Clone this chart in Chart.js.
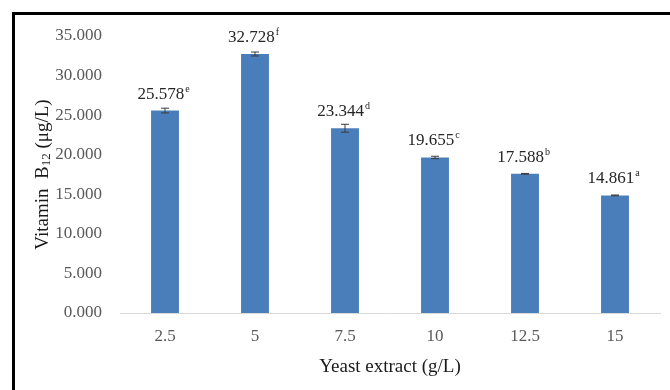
<!DOCTYPE html>
<html>
<head>
<meta charset="utf-8">
<script src="https://cdn.jsdelivr.net/npm/chart.js@4/dist/chart.umd.min.js"></script>
<style>
  html, body { margin: 0; padding: 0; background: #fff; }
  #marco { position: absolute; left: 0; top: 0; width: 670px; height: 390px; }
  #borde {
    position: absolute; left: 12px; top: 12px; width: 658px; height: 378px;
    border-left: 3px solid #000; border-top: 3px solid #000;
    box-sizing: border-box; pointer-events: none;
  }
</style>
</head>
<body>
<div id="marco"><canvas id="grafico" width="670" height="390"></canvas></div>
<div id="borde"></div>
<script>
const extracto = ["2.5", "5", "7.5", "10", "12.5", "15"];
const vitamina = [25.578, 32.728, 23.344, 19.655, 17.588, 14.861];
const errores = [0.3, 0.25, 0.5, 0.15, 0.05, 0.05];
const letras = ["e", "f", "d", "c", "b", "a"];
const ticksY = [0, 5, 10, 15, 20, 25, 30, 35];

const fuente = "'Liberation Serif', 'Times New Roman', serif";

// barras de error, etiquetas con superindice y titulo del eje Y
const extras = {
  id: "extras",
  afterDatasetsDraw(chart) {
    const ctx = chart.ctx;
    const y = chart.scales.y;
    const meta = chart.getDatasetMeta(0);
    ctx.save();
    meta.data.forEach((barra, i) => {
      const x = barra.x;
      const arriba = y.getPixelForValue(vitamina[i] + errores[i]);
      const abajo = y.getPixelForValue(vitamina[i] - errores[i]);
      ctx.strokeStyle = "#3a3a3a";
      ctx.lineWidth = 1;
      ctx.beginPath();
      ctx.moveTo(x, arriba); ctx.lineTo(x, abajo);
      ctx.moveTo(x - 4, arriba); ctx.lineTo(x + 4, arriba);
      ctx.moveTo(x - 4, abajo); ctx.lineTo(x + 4, abajo);
      ctx.stroke();

      const texto = vitamina[i].toFixed(3);
      ctx.font = "17px " + fuente;
      const w1 = ctx.measureText(texto).width;
      ctx.font = "10px " + fuente;
      const w2 = ctx.measureText(letras[i]).width;
      const inicio = x - (w1 + w2) / 2 - 2;
      const base = y.getPixelForValue(vitamina[i]) - 12;
      ctx.fillStyle = "#262626";
      ctx.textAlign = "left";
      ctx.textBaseline = "alphabetic";
      ctx.font = "17px " + fuente;
      ctx.fillText(texto, inicio, base);
      ctx.font = "10px " + fuente;
      ctx.fillText(letras[i], inicio + w1 + 1, base - 7);
    });

    // titulo del eje Y con subindice
    const area = chart.chartArea;
    const partes = [
      { t: "Vitamin  B", f: "19px " + fuente, dy: 0 },
      { t: "12", f: "13px " + fuente, dy: 4 },
      { t: " (\u03bcg/L)", f: "19px " + fuente, dy: 0 }
    ];
    let total = 0;
    partes.forEach(p => { ctx.font = p.f; p.w = ctx.measureText(p.t).width; total += p.w; });
    ctx.translate(43, (area.top + area.bottom) / 2);
    ctx.rotate(-Math.PI / 2);
    ctx.fillStyle = "#1a1a1a";
    ctx.textBaseline = "middle";
    let pos = -total / 2;
    partes.forEach(p => {
      ctx.font = p.f;
      ctx.fillText(p.t, pos, p.dy);
      pos += p.w;
    });
    ctx.restore();
  }
};

const ctx = document.getElementById("grafico").getContext("2d");
new Chart(ctx, {
  type: "bar",
  data: {
    labels: extracto,
    datasets: [
      {
        data: vitamina,
        backgroundColor: "#4a7ebb",
        borderWidth: 0,
        barPercentage: 0.5,
        categoryPercentage: 0.62
      }
    ]
  },
  options: {
    responsive: false,
    animation: false,
    events: [],
    layout: { padding: { top: 36, right: 10, left: 0, bottom: 0 } },
    plugins: { legend: { display: false }, tooltip: { enabled: false } },
    scales: {
      x: {
        grid: { display: false },
        border: { display: true, color: "#d9d9d9", width: 1 },
        ticks: { color: "#595959", font: { family: fuente, size: 17 }, padding: 5 },
        title: {
          display: true,
          text: "Yeast extract (g/L)",
          color: "#1a1a1a",
          font: { family: fuente, size: 19 },
          padding: { top: 0, bottom: 12 }
        },
        afterFit: (escala) => { escala.height = 77; }
      },
      y: {
        min: 0,
        max: 35,
        grid: { display: false },
        border: { display: false },
        afterBuildTicks: (escala) => { escala.ticks = ticksY.map(v => ({ value: v })); },
        ticks: {
          color: "#595959",
          font: { family: fuente, size: 17 },
          padding: 10,
          callback: (v) => Number(v).toFixed(3)
        },
        afterFit: (escala) => { escala.width = 120; }
      }
    }
  },
  plugins: [extras]
});
</script>
</body>
</html>
